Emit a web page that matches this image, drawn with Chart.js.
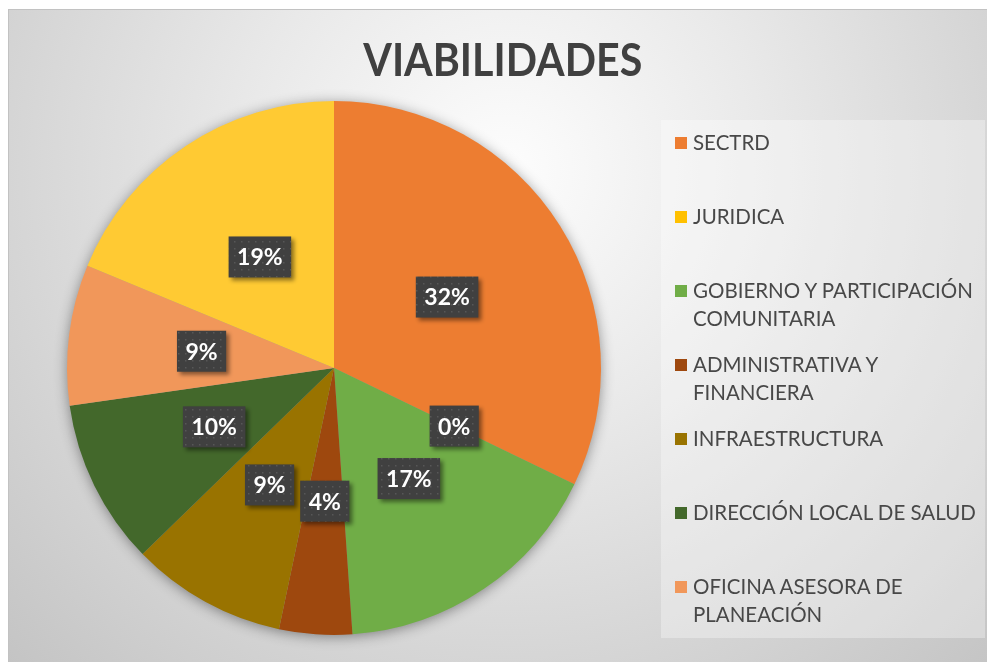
<!DOCTYPE html>
<html>
<head>
<meta charset="utf-8">
<script src="https://cdn.jsdelivr.net/npm/chart.js@4.4.1/dist/chart.umd.min.js"></script>
<style>
  html, body { margin: 0; padding: 0; background: #fff; width: 987px; height: 662px; overflow: hidden; }
  #frame {
    position: absolute; left: 8px; top: 9px; width: 979px; height: 653px;
    border-left: 1px solid #c2c2c2; border-top: 1px solid #c2c2c2; box-sizing: border-box;
    background: radial-gradient(circle at 497px 160px, #fdfdfd 0px, #e9e9e9 260px, #c4c4c4 700px);
  }
  #pie { position: absolute; left: 0; top: 0; }
  #title {
    position: absolute; top: 29px; left: 0; width: 1005px; text-align: center;
    font-family: Lato, sans-serif; font-weight: bold; font-size: 46px; line-height: 60px; color: #404040;
  }
  #title span { display: inline-block; transform-origin: center; }
  #legend {
    position: absolute; left: 661px; top: 120px; width: 324px; height: 518px;
    background: rgba(255,255,255,0.32);
  }
  .item { position: absolute; left: 14px; width: 310px; font-family: Lato, sans-serif; font-size: 20.5px; line-height: 27.5px; color: #484848; }
  .item .box { position: absolute; left: 0; top: 8px; width: 12px; height: 12px; }
  .item .txt { margin-left: 18px; }
</style>
</head>
<body>
<div id="frame"></div>
<canvas id="pie" width="987" height="662"></canvas>
<div id="title"><span>VIABILIDADES</span></div>
<div id="legend"></div>
<script>
// datos (porcentaje por dependencia)
const labels = ['SECTRD', 'JURIDICA', 'GOBIERNO Y PARTICIPACIÓN COMUNITARIA', 'ADMINISTRATIVA Y FINANCIERA',
  'INFRAESTRUCTURA', 'DIRECCIÓN LOCAL DE SALUD', 'OFICINA ASESORA DE PLANEACIÓN', ''];
const values = [32.1, 0, 16.7, 4.4, 9.4, 10.0, 8.5, 18.7];
const colors = ['#ED7D31', '#FFC000', '#70AD47', '#9E480E', '#997300', '#43682B', '#F1975A', '#FFCA33'];

function fitTitle() {
  let span = document.querySelector('#title span');
  let w = span.getBoundingClientRect().width;
  span.style.transform = 'scaleX(' + (279 / w) + ')';
}

function buildLegend() {
  let legend = document.getElementById('legend');
  labels.map((label, i) => {
    if (label === '') return;
    let item = document.createElement('div');
    item.className = 'item';
    item.style.top = (9 + 74 * i) + 'px';
    item.innerHTML = '<div class="box" style="background:' + colors[i] + '"></div><div class="txt">' + label + '</div>';
    legend.appendChild(item);
  });
}

function dotPattern(ctx) {
  let p = document.createElement('canvas');
  p.width = 7; p.height = 7;
  let pc = p.getContext('2d');
  pc.fillStyle = '#404040';
  pc.fillRect(0, 0, 7, 7);
  pc.fillStyle = '#575757';
  pc.fillRect(3, 3, 1.5, 1.5);
  return ctx.createPattern(p, 'repeat');
}

const pieShadow = {
  id: 'pieShadow',
  beforeDatasetsDraw(chart) {
    let arc = chart.getDatasetMeta(0).data[0];
    let ctx = chart.ctx;
    ctx.save();
    ctx.shadowColor = 'rgba(0,0,0,0.45)';
    ctx.shadowBlur = 14;
    ctx.shadowOffsetY = 2;
    ctx.fillStyle = '#999';
    ctx.beginPath();
    ctx.arc(arc.x, arc.y, arc.outerRadius - 1, 0, Math.PI * 2);
    ctx.fill();
    ctx.restore();
  }
};

const pctLabels = {
  id: 'pctLabels',
  afterDatasetsDraw(chart) {
    let ctx = chart.ctx;
    let data = chart.data.datasets[0].data;
    let total = data.reduce((a, b) => a + b, 0);
    let pattern = dotPattern(ctx);
    ctx.save();
    ctx.font = 'bold 23px Lato';
    ctx.textAlign = 'center';
    ctx.textBaseline = 'middle';
    chart.getDatasetMeta(0).data.map((arc, i) => {
      let pos = arc.tooltipPosition();
      let text = Math.round(data[i] / total * 100) + '%';
      let w = ctx.measureText(text).width + 17;
      let h = 41;
      ctx.save();
      ctx.shadowColor = 'rgba(0,0,0,0.45)';
      ctx.shadowBlur = 4;
      ctx.shadowOffsetX = 3;
      ctx.shadowOffsetY = 3;
      ctx.fillStyle = pattern;
      ctx.fillRect(pos.x - w / 2, pos.y - h / 2, w, h);
      ctx.restore();
      ctx.fillStyle = '#ffffff';
      ctx.fillText(text, pos.x, pos.y + 1);
    });
    ctx.restore();
  }
};

function plotdata() {
  let chartformat = {};
  chartformat.type = 'pie';
  chartformat.data = {
    labels: labels,
    datasets: [{ data: values, backgroundColor: colors, borderWidth: 0 }]
  };
  let options = chartformat.options = {};
  options.responsive = false;
  options.animation = false;
  options.radius = 267;
  options.layout = { padding: { left: 0, right: 319, top: 74, bottom: 0 } };
  options.plugins = { legend: { display: false }, title: { display: false }, tooltip: { enabled: false } };
  chartformat.plugins = [pieShadow, pctLabels];

  new Chart(document.getElementById('pie'), chartformat);
}

buildLegend();
document.fonts.load('bold 23px Lato').then(() => document.fonts.load('20px Lato')).then(() => {
  fitTitle();
  plotdata();
});
</script>
</body>
</html>
